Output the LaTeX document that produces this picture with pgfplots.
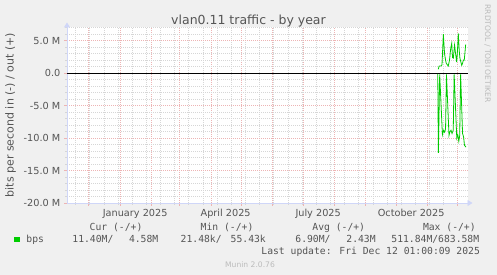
\documentclass[border=0pt]{standalone}
\usepackage{pgfplots}
\pgfplotsset{compat=1.18}
\usetikzlibrary{arrows.meta}
\usepackage{fontspec}
\setmainfont{DejaVu Sans}
\newfontfamily\monofont{DejaVu Sans Mono}
\definecolor{bgc}{HTML}{F0F0F0}
\definecolor{fontc}{HTML}{555555}
\definecolor{axisc}{HTML}{CFD6F8}
\definecolor{mgrid}{HTML}{EDB4B4}
\definecolor{gridc}{HTML}{D6D6D6}
\definecolor{munin}{HTML}{00CC00}
\definecolor{wm}{HTML}{BBBBBB}
\newcommand\fs[1]{\fontsize{#1pt}{#1pt}\selectfont}
\begin{document}
\begin{tikzpicture}[x=1pt,y=1pt,
  leg/.style={font=\monofont\fs{9.72}, text=fontc, anchor=base west, inner sep=0pt}]
\useasboundingbox (0,0) rectangle (497,275);
\fill[bgc] (0,0) rectangle (497,275);
\begin{axis}[
  at={(67pt,72pt)}, anchor=south west, scale only axis,
  width=401pt, height=176pt,
  xmin=-52.4, xmax=344.2, ymin=-20, ymax=7.1,
  axis background/.style={fill=white},
  axis lines=left,
  axis line style={draw=axisc, line width=0.8pt, -{Triangle[length=5pt,width=6pt]}, shorten >=-4.5pt},
  xtick={-31,0,31,59,90,120,151,181,212,243,273,304,334},
  minor xtick={-44,-30,...,340},
  ytick={-20,-15,...,5},
  minor ytick={-19,-18,...,7},
  xticklabels={}, yticklabels={},
  extra x ticks={15,104.5,196,288},
  extra x tick labels={January 2025,April 2025,July 2025,October 2025},
  extra x tick style={major tick length=0pt, grid=none},
  extra y ticks={-20,-15,-10,-5,0,5},
  extra y tick labels={-20.0 M,-15.0 M,-10.0 M,-5.0 M,0.0,5.0 M},
  extra y tick style={major tick length=0pt, grid=none},
  tick align=outside, major tick length=3pt, minor tick length=2pt,
  major tick style={draw=mgrid, line width=0.5pt},
  minor tick style={draw=gridc, line width=0.5pt},
  grid=both,
  major grid style={draw=mgrid, dash pattern=on 1pt off 1pt, line width=0.5pt},
  minor grid style={draw=gridc, dash pattern=on 1pt off 1pt, line width=0.5pt},
  tick label style={font=\fs{9.72}, text=fontc, inner sep=0pt},
  xticklabel style={anchor=base, yshift=-13.5pt},
  yticklabel style={anchor=east, xshift=-6.5pt},
]
\addplot[black, line width=1pt] coordinates {(-52.4,0) (344.2,0)};
% out (+)
\addplot[munin, line width=0.8pt] coordinates {
(314.8,0.6) (315.7,1.1) (317.5,1.1) (318.5,1.3) (319.8,6.0) (321.0,3.0)
(322.0,2.0) (322.7,1.5) (324.7,1.1) (325.9,2.0) (327.1,3.8) (328.1,4.6)
(328.9,2.4) (329.7,2.3) (330.9,4.3) (331.9,3.0) (333.0,1.7) (333.8,3.5)
(334.6,6.1) (335.5,3.5) (336.2,2.3) (338.0,1.2) (338.8,1.5) (339.6,2.0)
(340.5,2.0) (341.9,4.4)};
% in (-)
\addplot[munin, line width=0.8pt] coordinates {
(314.3,-0.1) (314.9,-12.3) (316.2,-0.2) (318.9,-9.5) (320.0,-8.8) (321.0,-9.1)
(322.0,-8.6) (322.9,-0.2) (325.4,-9.6) (326.4,-9.0) (327.4,-8.8) (328.4,-9.3)
(329.6,-8.8) (330.5,-0.2) (333.1,-10.0) (334.1,-9.5) (335.1,-10.5) (336.0,-9.6)
(336.9,-0.2) (338.8,-9.3) (339.8,-9.8) (340.7,-11.1) (342.2,-11.4)};
\end{axis}
\node[font=\fs{12.5}, text=fontc, anchor=base, inner sep=0pt] at (248.5,250) {vlan0.11 traffic - by year};
\node[font=\fs{11}, text=fontc, anchor=base, rotate=90, inner sep=0pt] at (13.5,160) {bits per second in (-) / out (+)};
\node[font=\fs{7.6}, text=wm, anchor=base, rotate=-90, inner sep=0pt] at (485,221.5) {RRDTOOL / TOBI OETIKER};
\node[leg] at (89.5,44) {Cur (-/+)};
\node[leg] at (200.5,44) {Min (-/+)};
\node[leg] at (312.2,44) {Avg (-/+)};
\node[leg] at (422.8,44) {Max (-/+)};
\node[anchor=south west, inner sep=0pt] at (14,32.5) {\textcolor{munin}{\rule{5.5pt}{5.5pt}}};
\node[leg] at (26.2,32.2) {bps};
\node[leg] at (72.2,32.2) {11.40M/};
\node[leg] at (128.8,32.2) {4.58M};
\node[leg] at (180.5,32.2) {21.48k/};
\node[leg] at (230.5,32.2) {55.43k};
\node[leg] at (295.2,32.2) {6.90M/};
\node[leg] at (346.2,32.2) {2.43M};
\node[leg] at (391.2,32.2) {511.84M/683.58M};
\node[leg] at (261.2,20.5) {Last update: Fri Dec 12 01:00:09 2025};
\node[font=\fs{7.6}, text=wm, anchor=base, inner sep=0pt] at (250,7.5) {Munin 2.0.76};
\end{tikzpicture}
\end{document}
